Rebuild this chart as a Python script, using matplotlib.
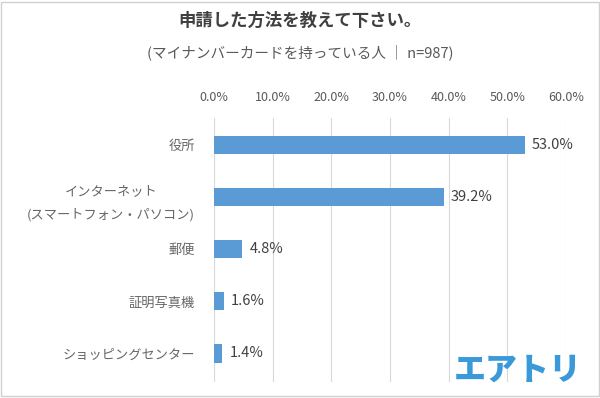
import matplotlib
matplotlib.use('Agg')
import matplotlib.pyplot as plt
from matplotlib.patches import Rectangle

plt.rcParams['font.family'] = ['Noto Sans CJK JP', 'DejaVu Sans']

categories = ['役所', 'インターネット\n(スマートフォン・パソコン)', '郵便', '証明写真機', 'ショッピングセンター']
values = [53.0, 39.2, 4.8, 1.6, 1.4]
xticks = [0, 10, 20, 30, 40, 50, 60]
title = '申請した方法を教えて下さい。'
subtitle = '(マイナンバーカードを持っている人 ｜ n=987)'

fig = plt.figure(figsize=(6, 3.98), dpi=100)
ax = fig.add_axes([0.357, 0.04, 0.586, 0.664])

pos = list(range(len(categories)))
ax.barh(pos, values, height=0.35, color='#5b9bd5', zorder=2)
for p, v in zip(pos, values):
    ax.text(v + 1.2, p, f'{v:.1f}%', va='center', ha='left', fontsize=10.5, color='#404040')

ax.set_xlim(0, 60)
ax.set_ylim(4.55, -0.52)
ax.set_xticks(xticks)
ax.set_xticklabels([f'{t:.1f}%' for t in xticks], fontsize=9, color='#595959')
ax.xaxis.tick_top()
ax.set_yticks(pos)
ax.set_yticklabels(categories, fontsize=9.5, color='#666666', linespacing=1.9)
for lab in ax.get_yticklabels():
    lab.set_multialignment('center')
ax.tick_params(length=0, pad=10)
ax.tick_params(axis='y', pad=14)
ax.grid(axis='x', color='#d9d9d9', linewidth=0.8, zorder=0)
for s in ax.spines.values():
    s.set_visible(False)

fig.text(0.5, 0.948, title, ha='center', va='center', fontsize=12.5, fontweight='bold', color='#404040')
fig.text(0.5, 0.868, subtitle, ha='center', va='center', fontsize=10.5, color='#595959')
fig.text(0.97, 0.07, 'エアトリ', ha='right', va='center', fontsize=23, fontweight='heavy', color='#3a9ad9')

fig.patches.append(Rectangle((0.002, 0.004), 0.996, 0.992, transform=fig.transFigure,
                             fill=False, edgecolor='#d0d0d0', linewidth=1))

fig.savefig('out.png', dpi=100, facecolor='white')
